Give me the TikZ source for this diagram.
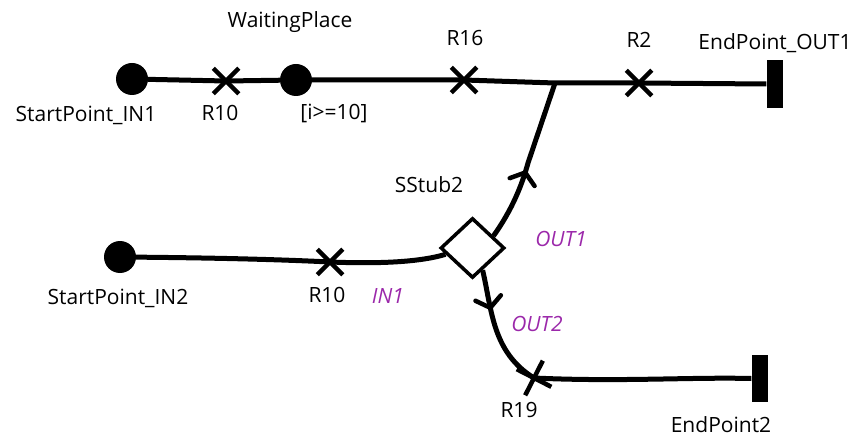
\documentclass[tikz,border=0pt]{standalone}
\usepackage{fontspec}
\setmainfont{Open Sans}
\usetikzlibrary{shapes.geometric,shapes.misc,decorations.markings,arrows.meta,calc}
\definecolor{portcol}{RGB}{155,40,170}
\begin{document}
\begin{tikzpicture}[x=1pt,y=-1pt,
  conn/.style={line width=5pt,line join=round},
  startpt/.style={circle,fill=black,inner sep=0pt,minimum size=#1},
  startpt/.default=32pt,
  endbar/.style={rectangle,fill=black,inner sep=0pt,minimum width=16pt,minimum height=48pt},
  xmark/.style={cross out,draw,line width=4.5pt,inner sep=0pt,minimum size=21pt},
  stubbox/.style={diamond,draw,fill=white,line width=3.5pt,inner sep=0pt,minimum width=64pt,minimum height=60pt},
  lbl/.style={font=\fontsize{21}{24}\selectfont,inner sep=0pt},
  portlbl/.style={font=\fontsize{21}{24}\selectfont\itshape,text=portcol,inner sep=0pt},
  flowarrow/.style={postaction={decorate,decoration={markings,mark=at position #1 with {\draw[line width=4.5pt,line cap=round,line join=miter] (-10pt,13pt) -- (0pt,0pt) -- (-10pt,-13pt);}}}}
]
\useasboundingbox (0,0) rectangle (861,438);
% nodes
\node[startpt] (sp1) at (132,79) {};
\node[xmark] (r10a) at (226,81) {};
\node[startpt] (wp) at (296,80) {};
\node[xmark] (r16) at (464,80) {};
\coordinate (J) at (555,83);
\node[xmark] (r2) at (639,83) {};
\node[endbar] (ep1) at (774.5,84) {};
\node[startpt=32pt] (sp2) at (120,257) {};
\node[xmark] (r10b) at (330,262) {};
\node[stubbox] (stub) at (472.5,248) {};
\node[xmark,rotate=18,minimum size=23pt] (r19) at (534,378) {};
\node[endbar,minimum height=47pt] (ep2) at (759.5,378.5) {};
% connectors
\draw[conn] (sp1) -- (r10a.center) -- (wp) -- (r16.center) -- (J) -- (r2.center) -- (ep1.west);
\draw[conn] (sp2) .. controls (230,258) and (290,260) .. (r10b.center)
  .. controls (380,264) and (420,262) .. ($(stub.west)!0.2!(stub.south)$);
\draw[conn,flowarrow=0.43] ($(stub.north)!0.62!(stub.east)$) .. controls (512,210) and (522,185) .. (528,163) -- (J);
\draw[conn,flowarrow=0.31] ($(stub.south)!0.3!(stub.east)$) .. controls (492,310) and (492,352) .. (r19.center);
\draw[conn] (r19.center) .. controls (620,382) and (690,377) .. (ep2.west);
% labels
\node[lbl] (lsp1) at (86,115) {StartPoint\_IN1};
\node[lbl] (lr10a) at (220,113) {R10};
\node[lbl] (lwp) at (290,22) {WaitingPlace};
\node[lbl] (lguard) at (334,113) {[i>=10]};
\node[lbl] (lr16) at (465,38) {R16};
\node[lbl] (lr2) at (639,40) {R2};
\node[lbl] (lep1) at (775,43) {EndPoint\_OUT1};
\node[lbl] (lstub) at (429,185) {SStub2};
\node[portlbl] (lout1) at (561,239) {OUT1};
\node[lbl] (lsp2) at (118,298) {StartPoint\_IN2};
\node[lbl] (lr10b) at (327,295) {R10};
\node[portlbl] (lin1) at (388,296) {IN1};
\node[portlbl] (lout2) at (537,324) {OUT2};
\node[lbl] (lr19) at (519,410) {R19};
\node[lbl] (lep2) at (721,425) {EndPoint2};
\end{tikzpicture}
\end{document}
